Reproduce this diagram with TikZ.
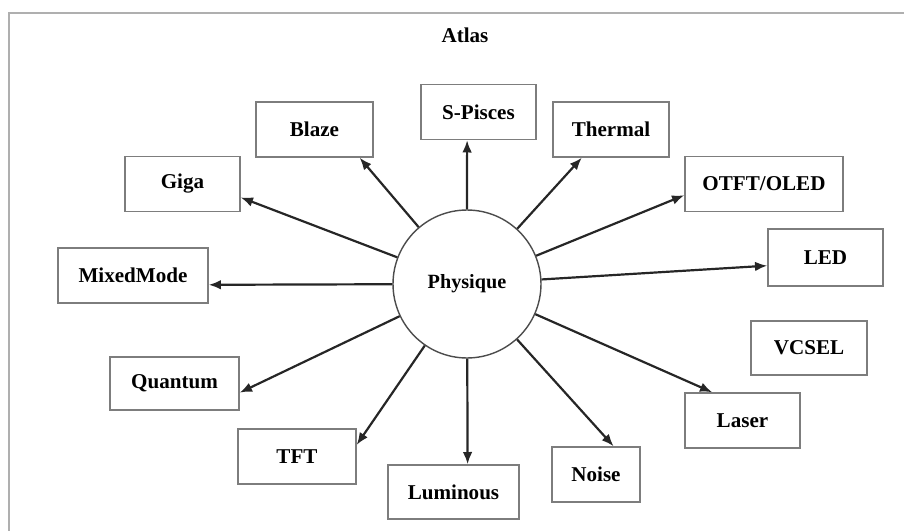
\documentclass[tikz,border=0pt]{standalone}
\usepackage{fontspec}
\setmainfont{Liberation Serif}
\usetikzlibrary{arrows.meta}
\definecolor{cadre}{RGB}{175,175,175}
\definecolor{bord}{RGB}{125,125,125}

\begin{document}
\begin{tikzpicture}[x=0.02cm,y=-0.02cm,
  boite/.style={draw=bord, line width=0.8pt, minimum height=1.1cm, inner sep=0pt, font=\bfseries\fontsize{12}{14}\selectfont},
  fleche/.style={-{Latex[length=7pt,width=5.5pt]}, line width=1.25pt, black!85}]
\useasboundingbox (0,0) rectangle (904,531);
\draw [cadre, line width=1.5pt] (9,531) -- (9,13) -- (904,13);

\node [font=\bfseries\fontsize{12}{14}\selectfont] (atlas) at (465,35) {Atlas};
\node [circle, draw=black!70, line width=0.8pt, minimum size=2.96cm, inner sep=0pt, font=\bfseries\fontsize{11.5}{13}\selectfont] (phys) at (467,284) {Physique};

\node [boite, minimum width=2.3cm] (giga) at (182.5,184) {Giga};
\node [boite, minimum width=2.34cm] (blaze) at (314.5,129.5) {Blaze};
\node [boite, minimum width=2.3cm] (spis) at (478.5,112) {S-Pisces};
\node [boite, minimum width=2.32cm] (therm) at (611,129.5) {Thermal};
\node [boite, minimum width=3.16cm] (otft) at (764,184) {OTFT/OLED};
\node [boite, minimum width=2.3cm, minimum height=1.14cm] (led) at (825.5,257.5) {LED};
\node [boite, minimum width=2.32cm, minimum height=1.08cm] (vcsel) at (809,348) {VCSEL};
\node [boite, minimum width=2.3cm] (laser) at (742.5,420.5) {Laser};
\node [boite, minimum width=1.76cm] (noise) at (596,474.5) {Noise};
\node [boite, minimum width=2.62cm, minimum height=1.08cm] (lum) at (453.5,492) {Luminous};
\node [boite, minimum width=2.36cm] (tft) at (297,456.5) {TFT};
\node [boite, minimum width=2.58cm, minimum height=1.06cm] (quant) at (174.5,383.5) {Quantum};
\node [boite, minimum width=3cm] (mixed) at (133,275.5) {MixedMode};

\draw [fleche] (phys) -- (giga.-13);
\draw [fleche] (phys) -- (blaze.-32);
\draw [fleche] (phys) -- (spis.-112.3);
\draw [fleche] (phys) -- (therm.-136);
\draw [fleche] (phys) -- (otft.188);
\draw [fleche] (phys) -- (led.188);
\draw [fleche] (phys) -- (laser.137);
\draw [fleche] (phys) -- (noise.58);
\draw [fleche] (phys) -- (lum.63.4);
\draw [fleche] (phys) -- (tft.11);
\draw [fleche] (phys) -- (quant.-8);
\draw [fleche] (phys) -- (mixed.-7);

\end{tikzpicture}
\end{document}
